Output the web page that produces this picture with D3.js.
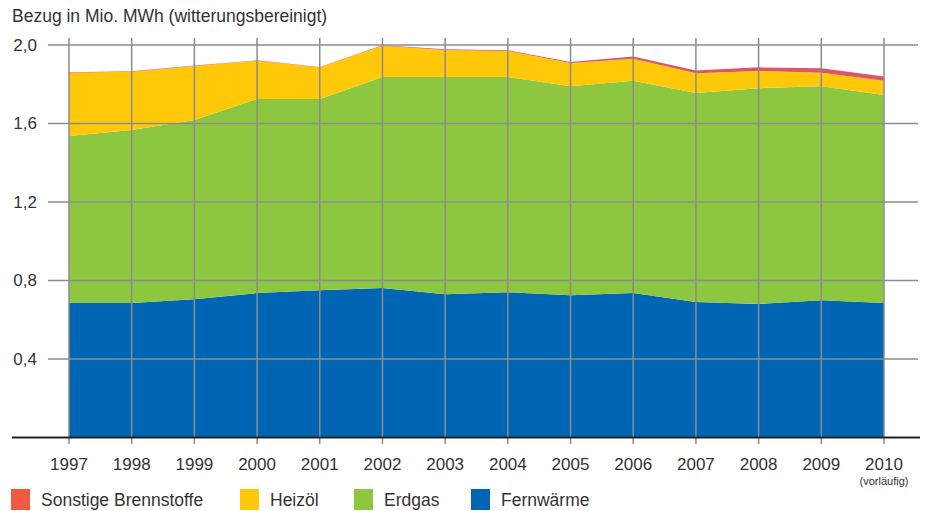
<!DOCTYPE html>
<html>
<head>
<meta charset="utf-8">
<script src="https://cdn.jsdelivr.net/npm/d3@7"></script>
<style>
  body { margin: 0; background: #fff; }
  svg { display: block; font-family: "Liberation Sans", Arial, sans-serif; }
  .grid line { stroke: #8c8c8c; stroke-width: 1.5; }
  text { fill: #333; }
</style>
</head>
<body>
<svg id="chart" width="925" height="511"></svg>
<script>
// values, in Mio. MWh
var years = [1997, 1998, 1999, 2000, 2001, 2002, 2003, 2004, 2005, 2006, 2007, 2008, 2009, 2010];
var fernwaerme = [0.685, 0.685, 0.705, 0.736, 0.750, 0.762, 0.730, 0.740, 0.725, 0.736, 0.690, 0.680, 0.700, 0.685];
var erdgas     = [0.851, 0.882, 0.913, 0.989, 0.975, 1.075, 1.107, 1.097, 1.065, 1.082, 1.065, 1.100, 1.090, 1.060];
var heizoel    = [0.323, 0.297, 0.275, 0.195, 0.161, 0.159, 0.138, 0.133, 0.118, 0.112, 0.101, 0.088, 0.069, 0.073];
var sonstige   = [0.002, 0.002, 0.002, 0.002, 0.002, 0.003, 0.003, 0.003, 0.006, 0.012, 0.014, 0.018, 0.022, 0.022];
var yTicks = [0.4, 0.8, 1.2, 1.6, 2.0];

var series = [
  {key: "Fernwärme", values: fernwaerme, color: "#0066b3", legend: "#0066b3"},
  {key: "Erdgas", values: erdgas, color: "#8dc63f", legend: "#8dc63f"},
  {key: "Heizöl", values: heizoel, color: "#ffc90a", legend: "#ffc90a"},
  {key: "Sonstige Brennstoffe", values: sonstige, color: "#dd5566", legend: "#f05a40"}
];

var table = years.map(function(y, i){
  var row = {year: y};
  series.forEach(function(s){ row[s.key] = s.values[i]; });
  return row;
});

var svg = d3.select('#chart');

var x = d3.scaleLinear().domain([1997, 2010]).range([69, 884]);
var y = d3.scaleLinear().domain([0, 2.0]).range([437.5, 45]);

var stack = d3.stack().keys(series.map(function(s){ return s.key; }));
var layers = stack(table);

var area = d3.area()
  .x(function(d){ return x(d.data.year); })
  .y0(function(d){ return y(d[0]); })
  .y1(function(d){ return y(d[1]); });

svg.append('g').selectAll('path').data(layers).enter().append('path')
  .attr('d', area)
  .attr('fill', function(d, i){ return series[i].color; });

// grid on top of the areas
var grid = svg.append('g').classed('grid', true);
grid.selectAll('line.h').data(yTicks).enter().append('line')
  .attr('x1', 48).attr('x2', 918)
  .attr('y1', function(d){ return y(d); })
  .attr('y2', function(d){ return y(d); });
grid.selectAll('line.v').data(years).enter().append('line')
  .attr('x1', function(d){ return x(d); })
  .attr('x2', function(d){ return x(d); })
  .attr('y1', 38).attr('y2', 444);

// baseline
svg.append('line')
  .attr('x1', 12).attr('x2', 920)
  .attr('y1', y(0)).attr('y2', y(0))
  .attr('stroke', '#222').attr('stroke-width', 2);

// y labels
svg.append('g').selectAll('text').data(yTicks).enter().append('text')
  .attr('x', 37).attr('y', function(d){ return y(d); })
  .attr('dy', '0.35em')
  .attr('text-anchor', 'end')
  .style('font-size', '17px')
  .text(function(d){ return d3.format('.1f')(d).replace('.', ','); });

// x labels
svg.append('g').selectAll('text').data(years).enter().append('text')
  .attr('x', function(d){ return x(d); })
  .attr('y', 470)
  .attr('text-anchor', 'middle')
  .style('font-size', '17px')
  .text(function(d){ return d; });

svg.append('text')
  .attr('x', x(2010)).attr('y', 485)
  .attr('text-anchor', 'middle')
  .style('font-size', '11px')
  .text('(vorläufig)');

// title
svg.append('text')
  .attr('x', 12).attr('y', 22)
  .style('font-size', '17.5px')
  .text('Bezug in Mio. MWh (witterungsbereinigt)');

// legend
var legendItems = [
  {s: series[3], x: 11},
  {s: series[2], x: 240},
  {s: series[1], x: 354},
  {s: series[0], x: 471}
];
var lg = svg.append('g').selectAll('g').data(legendItems).enter().append('g')
  .attr('transform', function(d){ return 'translate(' + d.x + ',489)'; });
lg.append('rect').attr('width', 19).attr('height', 21)
  .attr('fill', function(d){ return d.s.legend; });
lg.append('text').attr('x', 30).attr('y', 17)
  .style('font-size', '17.5px')
  .text(function(d){ return d.s.key; });
</script>
</body>
</html>
